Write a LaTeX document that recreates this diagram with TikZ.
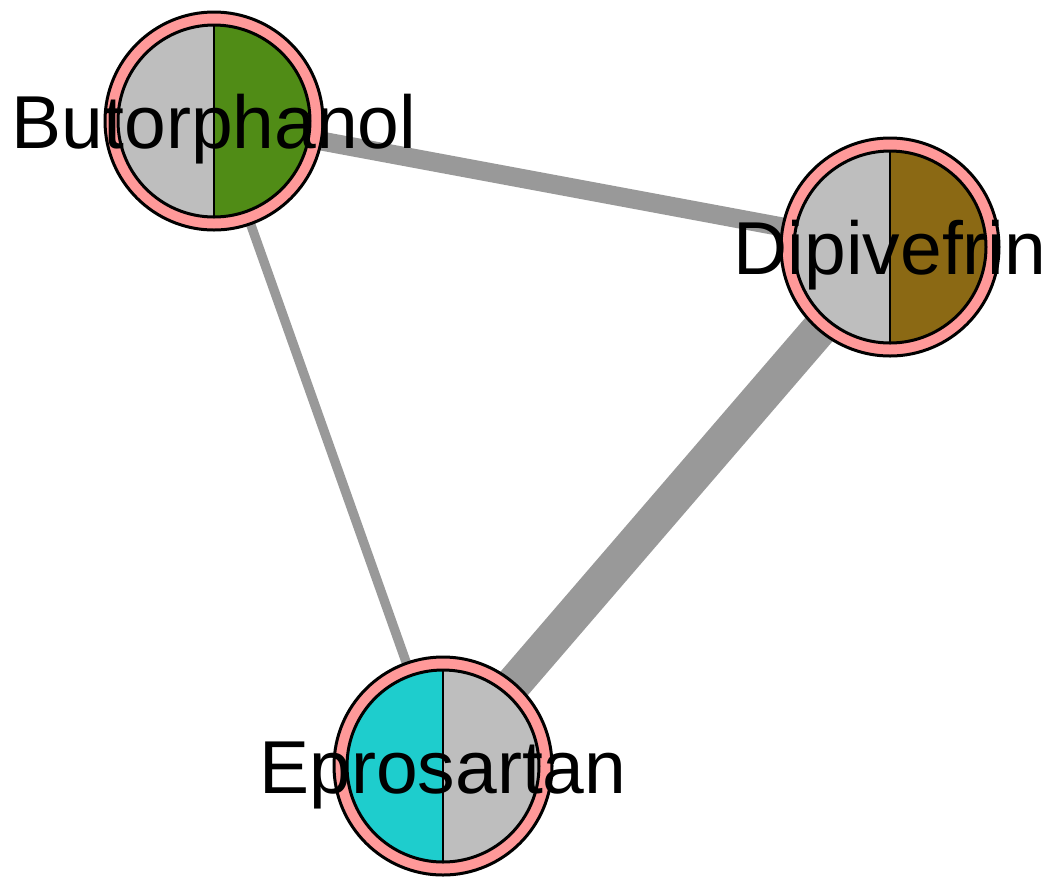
\documentclass[tikz,border=0pt]{standalone}
\usepackage{fontspec}
\setmainfont{Liberation Sans}
\usepackage{tikz}
\usetikzlibrary{backgrounds}
\definecolor{ringpink}{RGB}{255,153,153}
\definecolor{halfgray}{RGB}{190,190,190}
\definecolor{butgreen}{RGB}{80,140,22}
\definecolor{dipbrown}{RGB}{139,105,20}
\definecolor{eprocyan}{RGB}{30,205,205}
\definecolor{edgegray}{RGB}{153,153,153}

\tikzset{
  drug/.style 2 args={circle, minimum size=109pt, inner sep=0pt, draw=black,
    line width=1.5pt, fill=ringpink,
    path picture={
      \fill[#1] ([yshift=-48pt]path picture bounding box.center) arc (-90:-270:48pt) -- cycle;
      \fill[#2] ([yshift=48pt]path picture bounding box.center) arc (90:-90:48pt) -- cycle;
      \draw[line width=1.5pt] (path picture bounding box.center) circle (48pt);
      \draw[line width=1.2pt] ([yshift=48pt]path picture bounding box.center)
        -- ([yshift=-48pt]path picture bounding box.center);
    }},
  drugname/.style={font=\fontsize{37.5}{40}\selectfont, text height=27pt,
    text depth=0pt, inner sep=0pt},
  link/.style={draw=edgegray, line width=#1}
}

\begin{document}
\begin{tikzpicture}[x=0.5pt, y=-0.5pt]
  \useasboundingbox (0,0) rectangle (1055,880);
  \node[drug={halfgray}{butgreen}, label={[drugname]center:Butorphanol}] (but) at (214,121) {};
  \node[drug={halfgray}{dipbrown}, label={[drugname]center:Dipivefrin}] (dip) at (890,247) {};
  \node[drug={eprocyan}{halfgray}, label={[drugname]center:Eprosartan}] (epro) at (443,766) {};
  % edge widths follow the weights
  \begin{pgfonlayer}{background}
    \draw[link=9.5pt] (but.center) -- (dip.center);
    \draw[link=4.7pt] (but.center) -- (epro.center);
    \draw[link=18pt] (dip.center) -- (epro.center);
  \end{pgfonlayer}
\end{tikzpicture}
\end{document}
